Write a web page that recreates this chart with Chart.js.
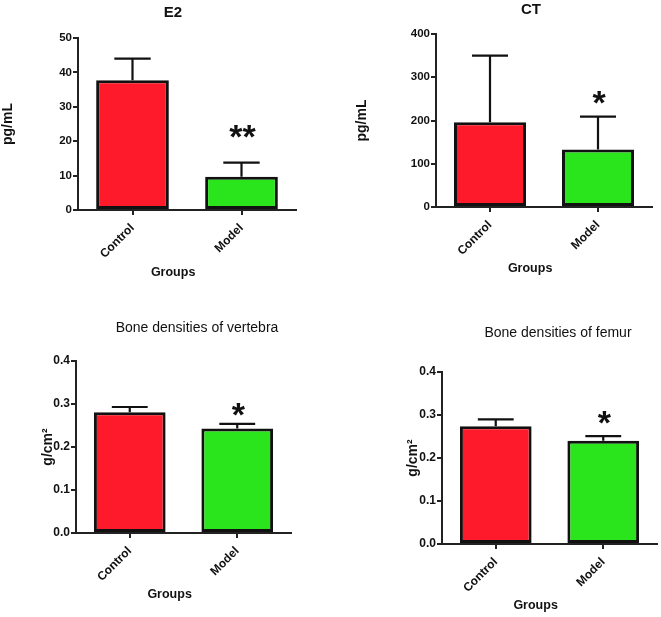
<!DOCTYPE html>
<html><head><meta charset="utf-8">
<script src="https://cdn.jsdelivr.net/npm/chart.js@4.4.0/dist/chart.umd.min.js"></script>
<style>
html,body{margin:0;padding:0;width:661px;height:617px;overflow:hidden;background:#fff;}
canvas{position:absolute;}
</style></head><body>
<canvas id="c1"></canvas><canvas id="c2"></canvas><canvas id="c3"></canvas><canvas id="c4"></canvas>
<script>
// ---- data ----
const groups = ['Control', 'Model'];
const barColors = ['#ff1a2b', '#2ae41c'];

const e2Mean = [37.7, 9.7];
const e2Err = [6.3, 4.1];
const e2Stars = ['', '**'];
const e2Ticks = ['0', '10', '20', '30', '40', '50'];

const ctMean = [196, 133];
const ctErr = [154, 76];
const ctStars = ['', '*'];
const ctTicks = ['0', '100', '200', '300', '400'];

const vertMean = [0.281, 0.243];
const vertErr = [0.012, 0.011];
const vertStars = ['', '*'];
const vertTicks = ['0.0', '0.1', '0.2', '0.3', '0.4'];

const femurMean = [0.274, 0.240];
const femurErr = [0.016, 0.011];
const femurStars = ['', '*'];
const femurTicks = ['0.0', '0.1', '0.2', '0.3', '0.4'];

const FONT = '"Liberation Sans", Arial, sans-serif';
Chart.defaults.font.family = FONT;
Chart.defaults.color = '#111';

const errorBarPlugin = {
  id: 'errorBars',
  afterDatasetsDraw(chart, args, opts) {
    const ctx = chart.ctx;
    const ys = chart.scales.y;
    const meta = chart.getDatasetMeta(0);
    const ds = chart.data.datasets[0];
    ctx.save();
    ctx.strokeStyle = '#111';
    ctx.lineWidth = 2.2;
    meta.data.forEach((bar, i) => {
      const top = ys.getPixelForValue(ds.data[i] + opts.errors[i]);
      const half = bar.width / 4;
      ctx.beginPath();
      ctx.moveTo(bar.x, bar.y);
      ctx.lineTo(bar.x, top);
      ctx.moveTo(bar.x - half, top);
      ctx.lineTo(bar.x + half, top);
      ctx.stroke();
      if (opts.stars[i]) {
        const fs = 34;
        ctx.font = 'bold ' + fs + 'px ' + FONT;
        ctx.textAlign = 'center';
        ctx.textBaseline = 'alphabetic';
        ctx.fillStyle = '#111';
        ctx.fillText(opts.stars[i], bar.x + 1, top - opts.starGap + 0.57 * fs);
      }
    });
    ctx.restore();
  }
};

const GROUPS_TITLE = 'Groups' + '        ';

function makeChart(o) {
  const cv = document.getElementById(o.id);
  cv.width = o.W; cv.height = o.H;
  cv.style.left = o.L + 'px'; cv.style.top = o.T + 'px';
  return new Chart(cv, {
    type: 'bar',
    data: {
      labels: groups,
      datasets: [{
        data: o.mean,
        backgroundColor: barColors,
        borderColor: '#111',
        borderWidth: 3,
        borderSkipped: false,
        barPercentage: 0.667,
        categoryPercentage: 1
      }]
    },
    options: {
      responsive: false, animation: false, devicePixelRatio: 1,
      layout: { padding: 0, autoPadding: false },
      plugins: {
        legend: { display: false },
        tooltip: { enabled: false },
        title: {
          display: true, text: o.title, color: '#111',
          font: { size: o.titleSize, weight: o.titleBold ? 'bold' : 'normal' },
          padding: { top: o.tpt, bottom: o.tpb }
        },
        errorBars: { errors: o.err, stars: o.stars, starGap: o.starGap }
      },
      scales: {
        x: {
          grid: { display: true, drawOnChartArea: false, drawTicks: true, tickLength: 5, offset: false, color: '#222', lineWidth: 2 },
          border: { display: true, color: '#222', width: 2 },
          ticks: { maxRotation: 45, minRotation: 45, padding: 6, color: '#111', font: { size: 12, weight: 'bold' } },
          title: { display: true, text: GROUPS_TITLE, color: '#111', font: { size: 12.5, weight: 'bold' }, padding: 0 },
          afterFit(s) { s.height = o.xH; }
        },
        y: {
          min: 0, max: o.max,
          grid: { display: true, drawOnChartArea: false, drawTicks: true, tickLength: 5, color: '#222', lineWidth: 2 },
          border: { display: true, color: '#222', width: 2 },
          ticks: { stepSize: o.step, padding: 1, color: '#111', font: { size: o.tickSize, weight: 'bold' },
                   callback: (v, i) => o.ticks[i] },
          title: { display: true, text: o.ytitle, color: '#111', font: { size: 14, weight: 'bold' }, padding: 0 },
          afterFit(s) { s.width = o.yW; }
        },
        pad: {
          type: 'linear', position: 'right', display: true,
          grid: { display: false }, border: { display: false }, ticks: { display: false },
          afterFit(s) { s.width = o.dW; }
        }
      }
    },
    plugins: [errorBarPlugin]
  });
}

makeChart({ id: 'c1', L: 0, T: 0, W: 346, H: 280, yW: 78, dW: 50, xH: 70, tpt: 4, tpb: 16,
  title: 'E2', titleBold: true, titleSize: 15, tickSize: 11.5, ytitle: 'pg/mL', mean: e2Mean, err: e2Err, stars: e2Stars, starGap: 34,
  max: 50, step: 10, ticks: e2Ticks });
makeChart({ id: 'c2', L: 354, T: 0, W: 354, H: 276, yW: 82, dW: 56, xH: 69, tpt: 1, tpb: 15,
  title: 'CT', titleBold: true, titleSize: 15, tickSize: 11.5, ytitle: 'pg/mL', mean: ctMean, err: ctErr, stars: ctStars, starGap: 22,
  max: 400, step: 100, ticks: ctTicks });
makeChart({ id: 'c3', L: 40, T: 300, W: 314, H: 302, yW: 36, dW: 63, xH: 69, tpt: 19.6, tpb: 24.6,
  title: 'Bone densities of vertebra', titleBold: false, titleSize: 14, tickSize: 12, ytitle: 'g/cm\u00B2', mean: vertMean, err: vertErr, stars: vertStars, starGap: 17,
  max: 0.4, step: 0.1, ticks: vertTicks });
makeChart({ id: 'c4', L: 405, T: 300, W: 306, H: 313, yW: 37, dW: 54, xH: 69, tpt: 24.6, tpb: 30.6,
  title: 'Bone densities of femur', titleBold: false, titleSize: 14, tickSize: 12, ytitle: 'g/cm\u00B2', mean: femurMean, err: femurErr, stars: femurStars, starGap: 21,
  max: 0.4, step: 0.1, ticks: femurTicks });
</script>
</body></html>
